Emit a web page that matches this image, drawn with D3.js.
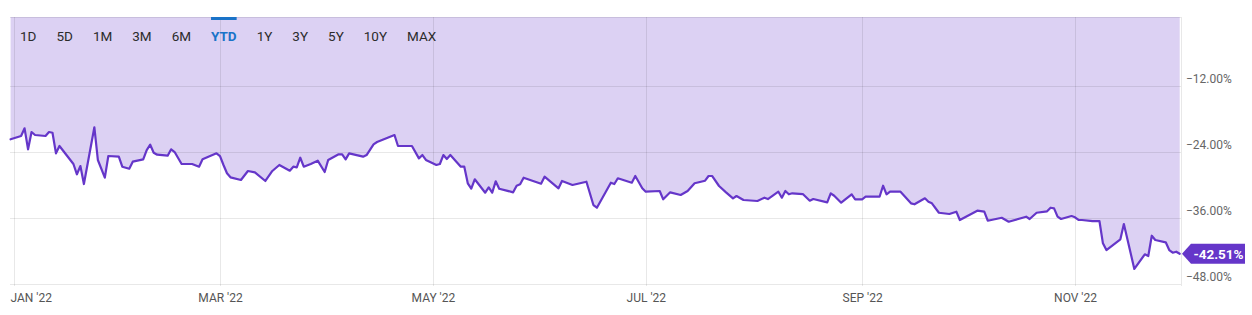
<!DOCTYPE html>
<html><head><meta charset="utf-8">
<script src="https://cdn.jsdelivr.net/npm/d3@7/dist/d3.min.js"></script>
<style>
body{margin:0;background:#fff;}
svg{display:block;font-family:Roboto,"Noto Sans",sans-serif;}
</style>
</head><body>
<svg id="chart" width="1252" height="315"></svg>
<script>
// ---- data ----
const dates = [
"2021-12-31","2022-01-03","2022-01-04","2022-01-05","2022-01-06","2022-01-07","2022-01-10","2022-01-11","2022-01-12","2022-01-13",
"2022-01-14","2022-01-16","2022-01-18","2022-01-19","2022-01-20","2022-01-21","2022-01-24","2022-01-25","2022-01-27","2022-01-28",
"2022-01-31","2022-02-01","2022-02-03","2022-02-04","2022-02-07","2022-02-08","2022-02-09","2022-02-10","2022-02-11","2022-02-14",
"2022-02-15","2022-02-16","2022-02-18","2022-02-21","2022-02-23","2022-02-24","2022-02-28","2022-03-01","2022-03-02","2022-03-03",
"2022-03-04","2022-03-07","2022-03-09","2022-03-11","2022-03-14","2022-03-16","2022-03-18","2022-03-21","2022-03-22","2022-03-23",
"2022-03-24","2022-03-25","2022-03-27","2022-03-29","2022-03-31","2022-04-01","2022-04-04","2022-04-05","2022-04-06","2022-04-07",
"2022-04-11","2022-04-12","2022-04-14","2022-04-15","2022-04-20","2022-04-21","2022-04-25","2022-04-27","2022-04-28","2022-04-29",
"2022-05-02","2022-05-03","2022-05-04","2022-05-05","2022-05-06","2022-05-09","2022-05-10","2022-05-11","2022-05-12","2022-05-13",
"2022-05-16","2022-05-17","2022-05-18","2022-05-19","2022-05-20","2022-05-24","2022-05-25","2022-05-26","2022-05-27","2022-06-01",
"2022-06-02","2022-06-06","2022-06-07","2022-06-10","2022-06-14","2022-06-16","2022-06-17","2022-06-21","2022-06-22","2022-06-23",
"2022-06-27","2022-06-28","2022-06-30","2022-07-01","2022-07-05","2022-07-06","2022-07-08","2022-07-11","2022-07-13","2022-07-15",
"2022-07-18","2022-07-19","2022-07-20","2022-07-22","2022-07-24","2022-07-26","2022-07-27","2022-07-29","2022-08-02","2022-08-04",
"2022-08-05","2022-08-08","2022-08-09","2022-08-10","2022-08-11","2022-08-12","2022-08-15","2022-08-17","2022-08-18","2022-08-22",
"2022-08-23","2022-08-24","2022-08-26","2022-08-29","2022-08-30","2022-09-01","2022-09-02","2022-09-06","2022-09-07","2022-09-08",
"2022-09-09","2022-09-12","2022-09-15","2022-09-16","2022-09-19","2022-09-20","2022-09-21","2022-09-23","2022-09-26","2022-09-28",
"2022-09-29","2022-10-04","2022-10-06","2022-10-07","2022-10-11","2022-10-13","2022-10-18","2022-10-19","2022-10-21","2022-10-24",
"2022-10-25","2022-10-26","2022-10-27","2022-10-28","2022-10-31","2022-11-01","2022-11-02","2022-11-03","2022-11-06","2022-11-08",
"2022-11-09","2022-11-10","2022-11-14","2022-11-15","2022-11-18","2022-11-21","2022-11-22","2022-11-23","2022-11-24","2022-11-27",
"2022-11-28","2022-11-29","2022-11-30","2022-12-01"
];
const values = [
-21.69,-21.09,-19.69,-23.51,-20.36,-20.91,-21.09,-20.36,-20.49,-24.24,
-22.91,-24.55,-26.18,-28.05,-26.55,-29.82,-19.51,-25.45,-28.67,-24.73,
-24.85,-26.67,-27.04,-25.76,-25.33,-23.64,-22.67,-24.13,-24.49,-24.67,
-23.51,-24.00,-26.18,-26.18,-26.67,-25.33,-24.24,-24.73,-26.36,-27.87,
-28.60,-29.09,-27.45,-27.69,-29.27,-27.45,-26.36,-27.40,-26.67,-26.78,
-25.04,-26.67,-26.18,-25.58,-27.64,-25.45,-24.42,-24.42,-25.33,-24.24,
-24.85,-24.55,-22.60,-22.18,-20.91,-22.91,-22.91,-25.15,-24.55,-25.45,
-26.36,-26.18,-24.55,-25.27,-24.55,-26.67,-26.67,-29.69,-30.67,-28.96,
-31.40,-30.42,-31.40,-29.33,-30.67,-31.33,-30.13,-29.87,-28.67,-29.76,
-28.49,-30.60,-29.27,-30.00,-29.40,-33.64,-34.13,-29.58,-29.82,-28.78,
-29.58,-28.36,-30.60,-31.22,-31.09,-32.60,-31.33,-31.82,-31.09,-29.69,
-29.22,-28.36,-28.36,-30.18,-31.33,-32.42,-32.00,-32.73,-32.91,-32.31,
-32.55,-31.22,-32.31,-31.09,-31.69,-31.51,-31.64,-32.85,-32.55,-33.15,
-31.51,-31.95,-33.22,-31.69,-32.60,-32.60,-32.13,-32.13,-30.13,-31.69,
-31.22,-31.22,-33.33,-33.51,-32.42,-33.04,-33.33,-35.04,-35.27,-34.85,
-36.36,-34.67,-34.85,-36.49,-35.95,-36.67,-35.76,-36.18,-35.04,-34.78,
-34.13,-34.24,-35.76,-36.18,-35.64,-35.87,-36.36,-36.36,-36.55,-36.55,
-40.60,-41.82,-39.87,-37.09,-45.27,-42.60,-42.91,-39.22,-40.00,-40.42,
-41.82,-42.31,-42.13,-42.51
];
const yTicks = [-12, -24, -36, -48];
const tabs = ["1D","5D","1M","3M","6M","YTD","1Y","3Y","5Y","10Y","MAX"];
const activeTab = "YTD";
const lastLabel = "-42.51%";

// ---- layout ----
const plot = {left: 10, right: 1181, top: 17, bottom: 284};
const parse = d3.timeParse("%Y-%m-%d");
const data = dates.map((d, i) => ({date: parse(d), value: values[i]}));

const x = d3.scaleTime()
  .domain([parse("2022-01-01"), parse("2022-12-01")])
  .range([14.1, 1179.7]);
const y = d3.scaleLinear().domain([-48, 0.55]).range([plot.bottom, plot.top]);

const svg = d3.select("#chart");
const gridColor = "rgba(0,0,0,0.09)";
const lineColor = "#6536c9";

// area above the line
svg.append("path").datum(data)
  .attr("fill", "#dcd1f3")
  .attr("d", d3.area().x(d => x(d.date)).y0(plot.top).y1(d => y(d.value)));

// horizontal grid
const grid = svg.append("g");
grid.selectAll("line.h").data(yTicks).join("line")
  .attr("x1", plot.left).attr("x2", plot.right)
  .attr("y1", d => y(d)).attr("y2", d => y(d))
  .attr("stroke", gridColor).attr("stroke-width", 1).attr("shape-rendering","crispEdges");
grid.append("line").attr("x1", plot.left).attr("x2", plot.right)
  .attr("y1", plot.top + 0.5).attr("y2", plot.top + 0.5)
  .attr("stroke", gridColor);

// vertical grid
const xTicks = x.ticks(d3.timeMonth.every(2));
grid.selectAll("line.v").data(xTicks).join("line")
  .attr("x1", d => Math.round(x(d)) + 0.5).attr("x2", d => Math.round(x(d)) + 0.5)
  .attr("y1", plot.top).attr("y2", plot.bottom + 2)
  .attr("stroke", gridColor);
grid.append("line")
  .attr("x1", plot.right + 0.5).attr("x2", plot.right + 0.5)
  .attr("y1", plot.top).attr("y2", plot.bottom + 2)
  .attr("stroke", gridColor);

// line
svg.append("path").datum(data)
  .attr("fill", "none").attr("stroke", lineColor).attr("stroke-width", 2.2)
  .attr("stroke-linejoin", "round").attr("stroke-linecap", "round")
  .attr("d", d3.line().x(d => x(d.date)).y(d => y(d.value)));

// y axis labels
const yAxis = svg.append("g")
  .attr("transform", `translate(${plot.right + 5},0)`)
  .call(d3.axisRight(y).tickValues(yTicks).tickSize(0).tickPadding(0)
    .tickFormat(d => d3.format(".2f")(d) + "%"));
yAxis.select(".domain").remove();
yAxis.selectAll("text")
  .attr("dy", "-0.32em").attr("fill", "#666")
  .attr("font-size", 12).attr("font-family", "Roboto");

// x axis labels
const fmt = d3.timeFormat("%b '%y");
const xAxis = svg.append("g")
  .attr("transform", `translate(0,${plot.bottom})`)
  .call(d3.axisBottom(x).tickValues(xTicks).tickSize(0).tickPadding(0)
    .tickFormat(d => fmt(d).toUpperCase()));
xAxis.select(".domain").remove();
xAxis.selectAll("text")
  .attr("y", 18).attr("dy", 0).attr("fill", "#555")
  .attr("font-size", 12).attr("font-family", "Roboto");
xAxis.selectAll(".tick").filter((d, i) => i === 0)
  .select("text").attr("text-anchor", "start")
  .attr("x", plot.left - x(xTicks[0]));

// last value badge
const last = data[data.length - 1];
const by = y(last.value);
const bx = plot.right + 1;
const badge = svg.append("g");
badge.append("path")
  .attr("d", `M${bx},${by} L${bx + 9},${by - 10} L${bx + 63},${by - 10} L${bx + 63},${by + 10} L${bx + 9},${by + 10} Z`)
  .attr("fill", lineColor);
badge.append("text")
  .attr("x", bx + 36.5).attr("y", by + 4.8)
  .attr("text-anchor", "middle").attr("fill", "#fff")
  .attr("font-size", 13.5).attr("font-weight", "bold")
  .text(lastLabel);

// range tabs
const tabG = svg.append("g");
let tx = 20;
tabs.forEach(t => {
  const isActive = t === activeTab;
  const el = tabG.append("text")
    .attr("x", tx).attr("y", 41)
    .attr("font-size", 13.5)
    .attr("font-weight", isActive ? "bold" : "normal")
    .attr("fill", isActive ? "#1a73c8" : "#2b2b2b")
    .text(t);
  const w = el.node().getComputedTextLength();
  if (isActive) {
    tabG.append("rect").attr("x", tx).attr("y", plot.top)
      .attr("width", w).attr("height", 3).attr("fill", "#1a73c8");
  }
  tx += w + 20;
});
</script>
</body></html>
